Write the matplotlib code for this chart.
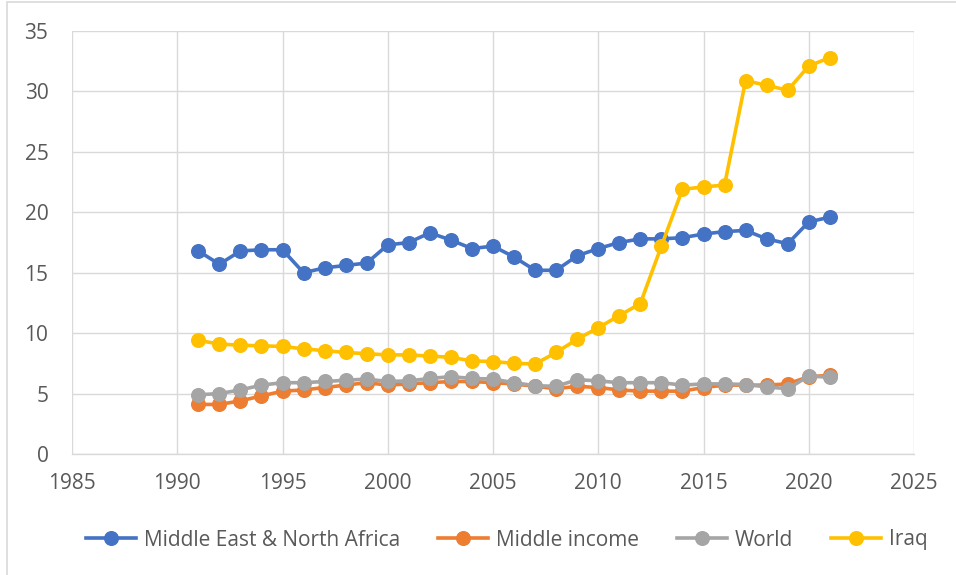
import matplotlib
matplotlib.use("Agg")
import matplotlib.pyplot as plt
from matplotlib.patches import Rectangle

plt.rcParams['font.family'] = ['Open Sans', 'DejaVu Sans']

years = list(range(1991, 2022))

mena = [16.8, 15.7, 16.8, 16.9, 16.9, 15.0, 15.4, 15.6, 15.8, 17.3, 17.5,
        18.3, 17.7, 17.0, 17.2, 16.3, 15.2, 15.2, 16.4, 17.0, 17.5, 17.8,
        17.8, 17.9, 18.2, 18.4, 18.5, 17.8, 17.4, 19.2, 19.6]
middle_income = [4.1, 4.1, 4.4, 4.8, 5.2, 5.3, 5.5, 5.7, 5.9, 5.7, 5.8,
                 5.9, 6.0, 6.0, 5.9, 5.8, 5.6, 5.4, 5.6, 5.5, 5.3, 5.2,
                 5.2, 5.2, 5.5, 5.7, 5.7, 5.7, 5.8, 6.4, 6.5]
world = [4.9, 5.0, 5.3, 5.7, 5.9, 5.9, 6.0, 6.1, 6.2, 6.0, 6.05, 6.25,
         6.4, 6.25, 6.2, 5.9, 5.65, 5.6, 6.15, 6.05, 5.9, 5.9, 5.9, 5.7,
         5.8, 5.8, 5.75, 5.55, 5.4, 6.45, 6.35]
iraq = [9.4, 9.1, 9.0, 8.95, 8.9, 8.7, 8.55, 8.4, 8.3, 8.2, 8.2, 8.1,
        8.0, 7.7, 7.65, 7.5, 7.45, 8.4, 9.5, 10.45, 11.45, 12.45, 17.2,
        21.9, 22.1, 22.25, 30.9, 30.5, 30.1, 32.1, 32.8]

series = [
    ("Middle East & North Africa", mena, "#4472C4"),
    ("Middle income", middle_income, "#ED7D31"),
    ("World", world, "#A5A5A5"),
    ("Iraq", iraq, "#FFC000"),
]

x_ticks = list(range(1985, 2026, 5))
y_ticks = list(range(0, 36, 5))

fig = plt.figure(figsize=(9.56, 5.75), dpi=100)
ax = fig.add_axes([72 / 956, 1 - 454 / 575, (914 - 72) / 956, (454 - 31) / 575])

text_color = "#595959"
grid_color = "#D9D9D9"

for i, (name, vals, color) in enumerate(series):
    ax.plot(years, vals, color=color, lw=2.6, marker="o", markersize=9.8,
            label=name, zorder=3 + i, clip_on=False)

ax.set_xlim(1985, 2025)
ax.set_ylim(0, 35)
ax.set_xticks(x_ticks)
ax.set_yticks(y_ticks)
ax.grid(True, color=grid_color, lw=1.0)
ax.set_axisbelow(True)
for side in ["top", "right", "left"]:
    ax.spines[side].set_visible(False)
ax.spines["bottom"].set_color(grid_color)
ax.spines["bottom"].set_linewidth(1.0)
ax.tick_params(axis="both", length=0, colors=text_color, labelsize=15)
ax.tick_params(axis="x", pad=14)
ax.tick_params(axis="y", pad=17)

leg = fig.legend(loc="center", bbox_to_anchor=(0.53, 1 - 540 / 575), ncol=4,
                 frameon=False, fontsize=15, handlelength=2.4,
                 columnspacing=1.8, handletextpad=0.4)
for t in leg.get_texts():
    t.set_color(text_color)

# chart area border
fig.patches.append(Rectangle((7 / 956, -0.05), 1.1, 1 - 2 / 575 + 0.05,
                             transform=fig.transFigure, fill=False,
                             edgecolor=grid_color, lw=1.2))

fig.savefig("out.png", dpi=100)
